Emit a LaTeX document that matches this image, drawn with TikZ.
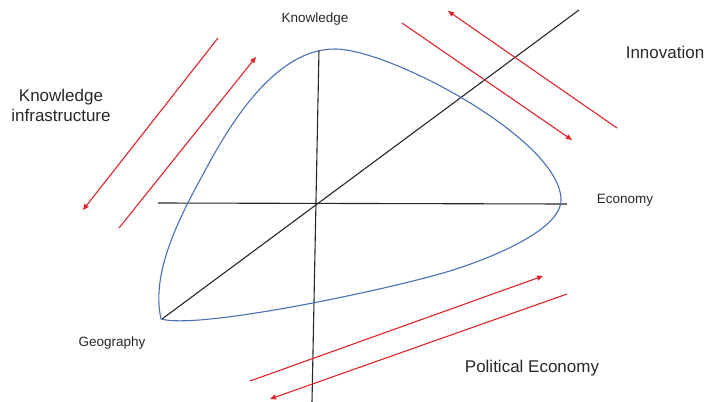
\documentclass[tikz,border=0pt]{standalone}
\usepackage{fontspec}
\setmainfont{Liberation Sans}
\usetikzlibrary{arrows.meta}
\definecolor{curveblue}{RGB}{74,112,182}
\definecolor{arrred}{RGB}{222,36,40}
\definecolor{txt}{RGB}{40,40,40}
\tikzset{
  axis/.style={draw=black!85, line width=1.1pt},
  flow/.style={draw=arrred, line width=1.1pt, -{Triangle[length=6pt,width=5pt]}},
  blob/.style={draw=curveblue, line width=1.1pt},
  small/.style={text=txt, font=\fontsize{13.5}{16}\selectfont, inner sep=0pt},
  big/.style={text=txt, font=\fontsize{17}{20}\selectfont, inner sep=0pt, align=center},
}
\begin{document}
\begin{tikzpicture}[x=1pt,y=-1pt]
\useasboundingbox (0,0) rectangle (705,402);
% axes
\coordinate (vt) at (319,50);
\coordinate (vb) at (312,402);
\coordinate (hl) at (158,203);
\coordinate (hr) at (567,204);
\coordinate (dl) at (162,319);
\coordinate (dr) at (579,10);
\draw[axis] (vt) -- (vb);
\draw[axis] (hl) -- (hr);
\draw[axis] (dl) -- (dr);
% blue curve
\coordinate (ctip) at (161,319);
\coordinate (cleft) at (207,167);
\coordinate (ctop) at (335,49);
\coordinate (cright) at (561,200);
\coordinate (cbot) at (453,270);
\draw[blob] (ctip) .. controls (150,270) and (183,211) .. (cleft)
  .. controls (233,119) and (277,49) .. (ctop)
  .. controls (390,49) and (561,140) .. (cright)
  .. controls (561,230) and (491,258) .. (cbot)
  .. controls (396,288) and (200,330) .. (ctip) -- cycle;
% red arrows
\coordinate (a1s) at (218,38);  \coordinate (a1e) at (83,210);
\coordinate (a2s) at (119,228); \coordinate (a2e) at (256,57);
\coordinate (a3s) at (402,23);  \coordinate (a3e) at (572,140);
\coordinate (a4s) at (617,128); \coordinate (a4e) at (448,11);
\coordinate (a5s) at (250,381); \coordinate (a5e) at (543,276);
\coordinate (a6s) at (567,294); \coordinate (a6e) at (270,399);
\draw[flow] (a1s) -- (a1e);
\draw[flow] (a2s) -- (a2e);
\draw[flow] (a3s) -- (a3e);
\draw[flow] (a4s) -- (a4e);
\draw[flow] (a5s) -- (a5e);
\draw[flow] (a6s) -- (a6e);
% labels
\node[small] (know) at (315,19) {Knowledge};
\node[small] (econ) at (625,200) {Economy};
\node[small] (geo) at (112,343) {Geography};
\node[big] (innov) at (665,52) {Innovation};
\node[big] (pol) at (532,368) {Political Economy};
\node[big] (kinf) at (61,105) {Knowledge\\infrastructure};
\end{tikzpicture}
\end{document}
